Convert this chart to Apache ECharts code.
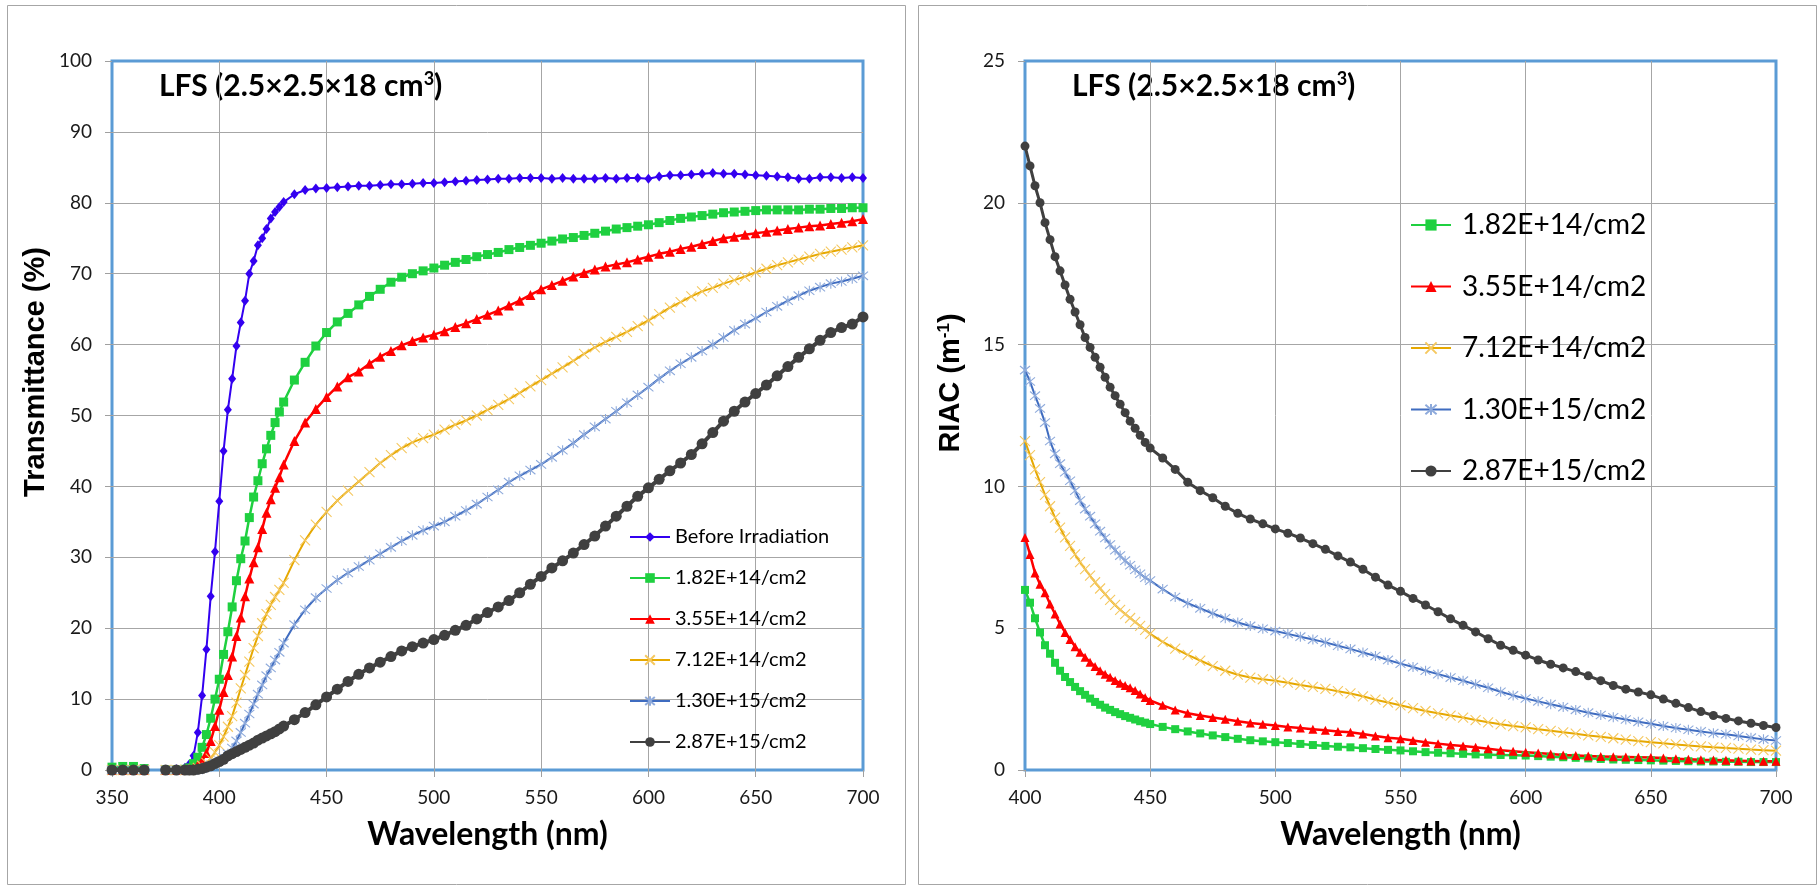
<!DOCTYPE html>
<html lang="en">
<head>
<meta charset="UTF-8">
<title>LFS transmittance and RIAC</title>
<style>
  html, body { margin: 0; padding: 0; background: #fff; }
  #main { width: 1818px; height: 886px; }
</style>
</head>
<body>
<div id="main"></div>
<script src="https://cdn.jsdelivr.net/npm/echarts@6.0.0/dist/echarts.min.js"></script>
<script>
// ---- left panel: transmittance (%) vs wavelength (nm) ----
var wlT = [350, 355, 360, 365, 370, 375, 380,
  384, 386, 388, 390, 392, 394, 396, 398, 400, 402, 404, 406, 408, 410, 412, 414, 416, 418, 420, 422, 424, 426, 428, 430,
  435, 440, 445, 450, 455, 460, 465, 470, 475, 480, 485, 490, 495, 500, 505, 510, 515, 520, 525, 530,
  535, 540, 545, 550, 555, 560, 565, 570, 575, 580, 585, 590, 595, 600, 605, 610, 615, 620, 625, 630,
  635, 640, 645, 650, 655, 660, 665, 670, 675, 680, 685, 690, 695, 700]

// '-' = no measurement (gap around 370 nm)
var tBefore = [0.2, 0.3, 0.2, 0.1, '-', 0, 0.1,
  0.3, 0.8, 2.0, 5.3, 10.5, 17.0, 24.5, 30.8, 37.9, 45.0, 50.8, 55.2, 59.8, 63.1, 66.2, 70.0, 71.8, 74.0, 75.0, 76.3, 77.8, 78.7, 79.4, 80.1,
  81.2, 81.8, 82.0, 82.1, 82.2, 82.3, 82.4, 82.4, 82.5, 82.6, 82.6, 82.7, 82.8, 82.8, 82.9, 83.0, 83.1, 83.2, 83.3, 83.4,
  83.4, 83.5, 83.5, 83.5, 83.4, 83.5, 83.4, 83.4, 83.4, 83.5, 83.4, 83.5, 83.5, 83.4, 83.7, 83.9, 83.9, 84.0, 84.1, 84.2,
  84.1, 84.1, 84.0, 83.9, 83.8, 83.7, 83.6, 83.4, 83.4, 83.6, 83.6, 83.5, 83.6, 83.5]
var t182 = [0.4, 0.5, 0.5, 0.2, '-', 0, 0,
  0.1, 0.3, 0.9, 1.8, 3.2, 5.0, 7.3, 10.0, 12.8, 16.3, 19.5, 23.0, 26.7, 29.8, 32.3, 35.6, 38.5, 40.8, 43.2, 45.3, 47.2, 49.0, 50.5, 51.9,
  55.0, 57.5, 59.8, 61.7, 63.2, 64.4, 65.6, 66.8, 67.8, 68.8, 69.5, 70.0, 70.4, 70.8, 71.2, 71.6, 72.0, 72.4, 72.7, 73.0,
  73.4, 73.7, 74.0, 74.3, 74.6, 74.9, 75.1, 75.4, 75.7, 76.0, 76.3, 76.5, 76.7, 76.9, 77.2, 77.5, 77.8, 78.0, 78.2, 78.4,
  78.6, 78.7, 78.8, 78.9, 79.0, 79.0, 79.0, 79.0, 79.1, 79.1, 79.2, 79.2, 79.3, 79.3]
var t355 = [0, 0, 0, 0, '-', 0, 0,
  0, 0.1, 0.3, 0.7, 1.3, 2.4, 4.1, 6.2, 8.5, 11.0, 13.4, 16.0, 18.9, 21.5, 24.5, 27.0, 29.3, 31.4, 34.0, 36.3, 38.2, 39.8, 41.3, 43.1,
  46.4, 49.0, 50.9, 52.6, 54.1, 55.4, 56.2, 57.3, 58.3, 59.1, 59.9, 60.5, 61.0, 61.4, 61.9, 62.5, 63.0, 63.6, 64.2, 64.8,
  65.5, 66.2, 67.0, 67.8, 68.4, 69.0, 69.6, 70.1, 70.6, 71.0, 71.3, 71.6, 72.0, 72.4, 72.8, 73.1, 73.5, 73.8, 74.2, 74.6,
  75.0, 75.2, 75.5, 75.7, 75.9, 76.1, 76.3, 76.5, 76.7, 76.8, 77.0, 77.2, 77.4, 77.7]
var t712 = [0, 0, 0, 0, '-', 0, 0,
  0, 0, 0.1, 0.3, 0.6, 1.0, 1.6, 2.5, 3.5, 4.7, 6.1, 7.6, 9.5, 11.5, 13.4, 15.3, 17.2, 18.9, 20.7, 22.0, 23.3, 24.4, 25.4, 26.4,
  29.6, 32.4, 34.6, 36.4, 38.0, 39.4, 40.7, 42.0, 43.3, 44.4, 45.4, 46.2, 46.8, 47.3, 48.0, 48.7, 49.3, 50.0, 50.8, 51.5,
  52.3, 53.2, 54.1, 55.0, 55.9, 56.8, 57.7, 58.7, 59.6, 60.4, 61.1, 61.8, 62.6, 63.4, 64.3, 65.2, 66.0, 66.8, 67.5, 68.0,
  68.6, 69.1, 69.6, 70.2, 70.7, 71.2, 71.6, 72.0, 72.4, 72.8, 73.1, 73.4, 73.7, 74.0]
var t130 = [0, 0, 0, 0, '-', 0, 0,
  0, 0, 0, 0, 0.2, 0.4, 0.7, 1.0, 1.3, 1.8, 2.3, 3.1, 4.1, 5.3, 6.6, 7.9, 9.3, 10.7, 12.0, 13.3, 14.4, 15.5, 16.6, 17.9,
  20.5, 22.6, 24.3, 25.6, 26.8, 27.8, 28.7, 29.6, 30.5, 31.4, 32.3, 33.1, 33.8, 34.4, 35.0, 35.8, 36.6, 37.5, 38.5, 39.5,
  40.6, 41.5, 42.3, 43.1, 44.1, 45.1, 46.1, 47.3, 48.4, 49.5, 50.6, 51.8, 52.9, 54.0, 55.2, 56.3, 57.3, 58.2, 59.1, 60.0,
  61.0, 62.0, 62.9, 63.7, 64.6, 65.4, 66.2, 66.9, 67.6, 68.1, 68.6, 68.9, 69.3, 69.7]
var t287 = [0, 0, 0, 0, '-', 0, 0,
  0, 0, 0, 0.1, 0.2, 0.4, 0.6, 0.9, 1.2, 1.5, 2.0, 2.3, 2.6, 2.9, 3.2, 3.5, 3.8, 4.2, 4.5, 4.8, 5.1, 5.4, 5.8, 6.2,
  7.1, 8.1, 9.2, 10.3, 11.4, 12.5, 13.5, 14.4, 15.2, 16.0, 16.8, 17.4, 17.9, 18.4, 19.0, 19.7, 20.4, 21.3, 22.2, 23.0,
  23.9, 25.0, 26.2, 27.3, 28.5, 29.5, 30.6, 31.8, 33.0, 34.4, 35.8, 37.2, 38.6, 39.8, 41.0, 42.2, 43.3, 44.5, 46.0, 47.6,
  49.2, 50.6, 51.9, 53.1, 54.3, 55.6, 56.9, 58.2, 59.4, 60.6, 61.7, 62.4, 62.9, 63.9]

// ---- right panel: RIAC (1/m) vs wavelength (nm) ----
var wlR = [400, 402, 404, 406, 408, 410, 412, 414, 416, 418, 420, 422, 424, 426, 428, 430, 432, 434, 436, 438, 440, 442, 444, 446, 448, 450,
  455, 460, 465, 470, 475, 480, 485, 490, 495, 500, 505, 510, 515, 520, 525, 530, 535, 540, 545, 550,
  555, 560, 565, 570, 575, 580, 585, 590, 595, 600, 605, 610, 615, 620, 625, 630, 635, 640, 645, 650,
  655, 660, 665, 670, 675, 680, 685, 690, 695, 700]

var r182 = [6.35, 5.9, 5.35, 4.85, 4.4, 4.1, 3.78, 3.5, 3.28, 3.1, 2.93, 2.78, 2.65, 2.52, 2.4, 2.3, 2.2, 2.12, 2.04, 1.97, 1.9, 1.84, 1.78, 1.72, 1.67, 1.62,
  1.52, 1.44, 1.36, 1.29, 1.22, 1.16, 1.1, 1.05, 1.01, 0.98, 0.95, 0.92, 0.88, 0.85, 0.82, 0.8, 0.77, 0.74, 0.71, 0.69,
  0.66, 0.63, 0.61, 0.59, 0.57, 0.55, 0.54, 0.53, 0.52, 0.51, 0.49, 0.47, 0.45, 0.43, 0.41, 0.39, 0.37, 0.36, 0.35, 0.34,
  0.33, 0.32, 0.31, 0.3, 0.3, 0.29, 0.29, 0.28, 0.28, 0.28]
var r355 = [8.2, 7.6, 6.95, 6.55, 6.25, 5.85, 5.5, 5.15, 4.85, 4.6, 4.35, 4.15, 3.98, 3.8, 3.65, 3.5, 3.38, 3.27, 3.16, 3.06, 2.98, 2.9, 2.8, 2.68, 2.56, 2.45,
  2.28, 2.12, 2.0, 1.92, 1.85, 1.79, 1.72, 1.66, 1.61, 1.57, 1.52, 1.48, 1.44, 1.4, 1.36, 1.33, 1.27, 1.2, 1.14, 1.1,
  1.04, 0.98, 0.93, 0.88, 0.85, 0.8, 0.75, 0.7, 0.66, 0.63, 0.6, 0.56, 0.53, 0.51, 0.49, 0.48, 0.47, 0.46, 0.45, 0.44,
  0.42, 0.4, 0.38, 0.36, 0.35, 0.34, 0.33, 0.32, 0.31, 0.31]
var r712 = [11.6, 11.1, 10.6, 10.15, 9.7, 9.3, 8.9, 8.55, 8.2, 7.9, 7.6, 7.33, 7.08, 6.85, 6.62, 6.4, 6.2, 6.0, 5.82, 5.65, 5.5, 5.36, 5.22, 5.08, 4.94, 4.8,
  4.52, 4.28, 4.06, 3.86, 3.66, 3.5, 3.36, 3.26, 3.2, 3.15, 3.08, 3.0, 2.93, 2.86, 2.78, 2.7, 2.6, 2.48, 2.38, 2.28,
  2.18, 2.08, 2.0, 1.92, 1.85, 1.76, 1.68, 1.61, 1.55, 1.5, 1.44, 1.38, 1.33, 1.28, 1.22, 1.17, 1.12, 1.07, 1.02, 0.98,
  0.94, 0.9, 0.86, 0.83, 0.8, 0.78, 0.75, 0.72, 0.7, 0.68]
var r130 = [14.1, 13.7, 13.2, 12.75, 12.25, 11.6, 11.15, 10.8, 10.5, 10.2, 9.85, 9.5, 9.2, 8.95, 8.68, 8.42, 8.18, 7.95, 7.75, 7.56, 7.38, 7.22, 7.06, 6.92, 6.78, 6.68,
  6.38, 6.1, 5.88, 5.7, 5.52, 5.35, 5.2, 5.08, 4.98, 4.9, 4.8, 4.7, 4.6, 4.5, 4.38, 4.27, 4.14, 4.02, 3.88, 3.75,
  3.63, 3.5, 3.38, 3.26, 3.15, 3.02, 2.9, 2.76, 2.63, 2.52, 2.42, 2.32, 2.22, 2.12, 2.02, 1.94, 1.86, 1.78, 1.7, 1.63,
  1.55, 1.48, 1.42, 1.36, 1.3, 1.26, 1.2, 1.14, 1.08, 1.04]
var r287 = [22.0, 21.3, 20.6, 20.0, 19.3, 18.7, 18.1, 17.6, 17.1, 16.6, 16.15, 15.7, 15.25, 14.9, 14.55, 14.2, 13.85, 13.5, 13.2, 12.9, 12.6, 12.3, 12.05, 11.8, 11.55, 11.35,
  11.0, 10.6, 10.15, 9.85, 9.6, 9.3, 9.05, 8.85, 8.68, 8.5, 8.35, 8.18, 7.98, 7.78, 7.55, 7.33, 7.08, 6.8, 6.52, 6.3,
  6.05, 5.82, 5.58, 5.33, 5.1, 4.87, 4.63, 4.4, 4.22, 4.05, 3.88, 3.73, 3.6, 3.47, 3.32, 3.15, 2.98, 2.85, 2.75, 2.65,
  2.5, 2.35, 2.2, 2.06, 1.92, 1.82, 1.73, 1.65, 1.57, 1.5]

var namesT = ['Before Irradiation', '1.82E+14/cm2', '3.55E+14/cm2', '7.12E+14/cm2', '1.30E+15/cm2', '2.87E+15/cm2']
var namesR = ['1.82E+14/cm2', '3.55E+14/cm2', '7.12E+14/cm2', '1.30E+15/cm2', '2.87E+15/cm2']
var ticksT = { min: 0, max: 100, step: 10 }
var ticksR = { min: 0, max: 25, step: 5 }

// marker look per dose (Excel-ish)
var looks = {
  'Before Irradiation': { line: '#3300f0', mark: '#3300f0', symbol: 'diamond', sizeT: [8, 10], sizeR: 8, width: 2, widthR: 2 },
  '1.82E+14/cm2': { line: '#1fd040', mark: '#1fd040', symbol: 'rect', sizeT: 9, sizeR: 8, width: 2.5, widthR: 2.5 },
  '3.55E+14/cm2': { line: '#ff0000', mark: '#ff0000', symbol: 'triangle', sizeT: 10, sizeR: 9, width: 2.5, widthR: 2.5 },
  '7.12E+14/cm2': { line: '#e6a800', mark: '#f5c860', symbol: 'path://M0 0L10 10M10 0L0 10', sizeT: 10, sizeR: 10, width: 2, widthR: 2, stroke: true },
  '1.30E+15/cm2': { line: '#3f6cc0', mark: '#8eaadb', symbol: 'path://M0 0L10 10M10 0L0 10M5 -1L5 11', sizeT: 10, sizeR: 10, width: 2, widthR: 2, stroke: true },
  '2.87E+15/cm2': { line: '#404040', mark: '#404040', symbol: 'circle', sizeT: 11, sizeR: 9, width: 4, widthR: 3 }
}

function pairs(xs, ys) {
  return xs.map(function (x, i) { return [x, ys[i]] })
}

function makeSeries(name, xs, ys, axis) {
  var lk = looks[name]
  return {
    name: name,
    type: 'line',
    xAxisIndex: axis,
    yAxisIndex: axis,
    data: pairs(xs, ys),
    symbol: lk.symbol,
    symbolSize: axis === 0 ? lk.sizeT : lk.sizeR,
    lineStyle: { color: lk.line, width: axis === 0 ? lk.width : lk.widthR },
    itemStyle: lk.stroke ? { color: 'none', borderColor: lk.mark, borderWidth: 1.1 } : { color: lk.mark },
    emphasis: { disabled: true },
    silent: true
  }
}

var font = 'Lato'
var arial = 'Liberation Sans'
function xAx(idx, min) {
  return {
    gridIndex: idx, type: 'value', min: min, max: 700, interval: 50,
    name: 'Wavelength (nm)', nameLocation: 'middle', nameGap: 49,
    nameTextStyle: { fontFamily: font, fontWeight: 'bold', fontSize: 32, color: '#000' },
    axisLine: { show: false },
    axisTick: { show: true, length: 7, lineStyle: { color: '#a0a0a0' } },
    axisLabel: { margin: 18, fontFamily: font, fontSize: 19, color: '#1a1a1a' },
    splitLine: { show: true, showMinLine: false, showMaxLine: false, lineStyle: { color: '#a6a6a6', width: 1 } }
  }
}
function yAx(idx, t) {
  return {
    gridIndex: idx, type: 'value', min: t.min, max: t.max, interval: t.step,
    axisLine: { show: false },
    axisTick: { show: true, length: 7, lineStyle: { color: '#a0a0a0' } },
    axisLabel: { margin: 20, fontFamily: font, fontSize: 19, color: '#1a1a1a' },
    splitLine: { show: true, showMinLine: false, showMaxLine: false, lineStyle: { color: '#a6a6a6', width: 1 } }
  }
}

var series = []
namesT.forEach(function (n, i) {
  series.push(makeSeries(n, wlT, [tBefore, t182, t355, t712, t130, t287][i], 0))
})
namesR.forEach(function (n, i) {
  series.push(makeSeries(n, wlR, [r182, r355, r712, r130, r287][i], 1))
})

var titleRich = {
  b: { fontFamily: font, fontWeight: 'bold', fontSize: 30, color: '#000', lineHeight: 32 },
  s: { fontFamily: font, fontWeight: 'bold', fontSize: 18, color: '#000', verticalAlign: 'top', lineHeight: 32, padding: [0, 0, 13, 0] }
}

var myChart = echarts.init(document.getElementById('main'))
var options = {
  animation: false,
  backgroundColor: '#fff',
  grid: [
    { left: 112, top: 61, width: 751, height: 709, show: true, borderColor: '#5b9bd5', borderWidth: 3, outerBoundsMode: 'none' },
    { left: 1025, top: 61, width: 751, height: 709, show: true, borderColor: '#5b9bd5', borderWidth: 3, outerBoundsMode: 'none' }
  ],
  xAxis: [xAx(0, 350), xAx(1, 400)],
  yAxis: [yAx(0, ticksT), yAx(1, ticksR)],
  legend: [
    {
      data: namesT, orient: 'vertical', left: 629, top: 527, padding: 0,
      itemWidth: 40, itemHeight: 12, itemGap: 21, selectedMode: false,
      textStyle: { fontFamily: font, fontSize: 20, lineHeight: 20, color: '#000' }
    },
    {
      data: namesR, orient: 'vertical', left: 1410, top: 210, padding: 0,
      itemWidth: 40, itemHeight: 14, itemGap: 31.5, selectedMode: false,
      textStyle: { fontFamily: font, fontSize: 28, lineHeight: 30, color: '#000', padding: [0, 0, 0, 6] }
    }
  ],
  graphic: [
    { type: 'rect', shape: { x: 7.5, y: 5.5, width: 898, height: 879 }, style: { fill: 'none', stroke: '#a6a6a6', lineWidth: 1 }, silent: true, z: -1 },
    { type: 'rect', shape: { x: 918.5, y: 5.5, width: 898, height: 879 }, style: { fill: 'none', stroke: '#a6a6a6', lineWidth: 1 }, silent: true, z: -1 },
    { type: 'text', x: 159, y: 86, style: { text: '{b|LFS (2.5×2.5×18 cm}{s|3}{b|)}', rich: titleRich, verticalAlign: 'middle' }, silent: true },
    { type: 'text', x: 1072, y: 86, style: { text: '{b|LFS (2.5×2.5×18 cm}{s|3}{b|)}', rich: titleRich, verticalAlign: 'middle' }, silent: true },
    {
      type: 'text', x: 36, y: 372, rotation: Math.PI / 2,
      style: {
        text: 'Transmittance (%)', fontFamily: arial, fontWeight: 'bold', fontSize: 29,
        fill: '#000', align: 'center', verticalAlign: 'middle'
      },
      silent: true
    },
    {
      type: 'text', x: 951, y: 383, rotation: Math.PI / 2,
      style: {
        text: '{a|RIAC (m}{s|-1}{a|)}', align: 'center', verticalAlign: 'middle',
        rich: {
          a: { fontFamily: arial, fontWeight: 'bold', fontSize: 29, color: '#000', lineHeight: 30 },
          s: { fontFamily: arial, fontWeight: 'bold', fontSize: 17, color: '#000', verticalAlign: 'top', lineHeight: 30, padding: [0, 0, 12, 0] }
        }
      },
      silent: true
    }
  ],
  series: series
}

myChart.setOption(options)
</script>
</body>
</html>
